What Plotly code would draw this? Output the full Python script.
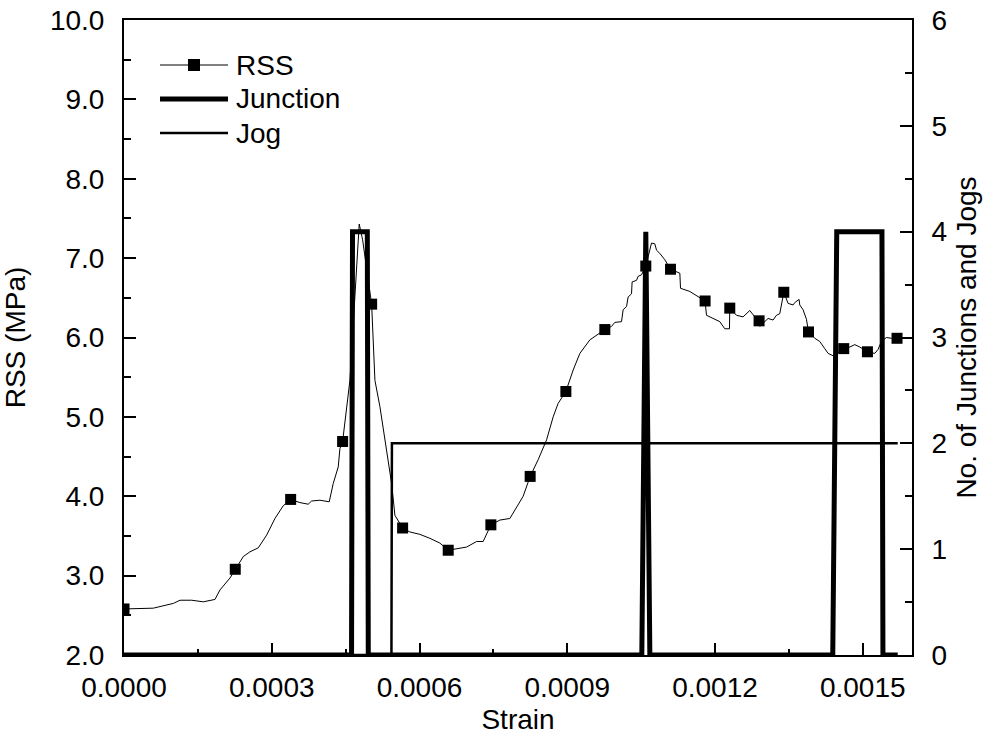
import plotly.graph_objects as go

# RSS curve (strain, MPa)
rss_strain = [0.0, 0.0000595, 0.0001001, 0.0001137, 0.0001374, 0.0001610, 0.0001847, 0.0001949,
              0.0002152, 0.0002259, 0.0002422, 0.0002558, 0.0002726, 0.0002896, 0.0003065, 0.0003233,
              0.0003384, 0.0003572, 0.0003741, 0.0003810, 0.0003978, 0.0004167, 0.0004248, 0.0004350,
              0.0004384, 0.0004439, 0.0004486, 0.0004587, 0.0004776, 0.0004845, 0.0005028, 0.0005060,
              0.0005095, 0.0005196, 0.0005344, 0.0005434, 0.0005501, 0.0005568, 0.0005657, 0.0005805,
              0.0006008, 0.0006211, 0.0006414, 0.0006583, 0.0006753, 0.0006956, 0.0007159, 0.0007293,
              0.0007449, 0.0007632, 0.0007835, 0.0007971, 0.0008105, 0.0008247, 0.0008409, 0.0008580,
              0.0008714, 0.0008815, 0.0008972, 0.0009120, 0.0009256, 0.0009459, 0.0009763, 0.0009899,
              0.0009966, 0.0010102, 0.0010135, 0.0010204, 0.0010236, 0.0010305, 0.0010317, 0.0010407,
              0.0010439, 0.0010508, 0.0010595, 0.0010711, 0.0010778, 0.0010813, 0.0010879, 0.0010981,
              0.0011097, 0.0011286, 0.0011300, 0.0011488, 0.0011590, 0.0011799, 0.0011827, 0.0011962,
              0.0012097, 0.0012199, 0.0012294, 0.0012300, 0.0012436, 0.0012570, 0.0012706, 0.0012808,
              0.0012895, 0.0012910, 0.0013078, 0.0013179, 0.0013248, 0.0013315, 0.0013397, 0.0013484,
              0.0013585, 0.0013620, 0.0013707, 0.0013721, 0.0013788, 0.0013857, 0.0013898, 0.0014026,
              0.0014127, 0.0014229, 0.0014296, 0.0014397, 0.0014614, 0.0014736, 0.0014838, 0.0014939,
              0.0015095, 0.0015244, 0.0015311, 0.0015379, 0.0015481, 0.0015582, 0.0015696]
rss_values = [2.58, 2.59, 2.65, 2.69, 2.69, 2.67, 2.70, 2.82,
              2.97, 3.08, 3.24, 3.30, 3.35, 3.51, 3.72, 3.88,
              3.96, 3.92, 3.90, 3.94, 3.95, 3.93, 4.16, 4.37,
              4.60, 4.69, 4.92, 5.46, 7.43, 7.23, 6.42, 5.97,
              5.46, 5.13, 4.54, 4.16, 3.76, 3.69, 3.60, 3.55,
              3.52, 3.47, 3.41, 3.32, 3.34, 3.36, 3.43, 3.43,
              3.64, 3.70, 3.72, 3.87, 4.00, 4.25, 4.46, 4.71,
              5.00, 5.17, 5.32, 5.59, 5.80, 5.97, 6.10, 6.14,
              6.19, 6.20, 6.35, 6.39, 6.51, 6.55, 6.70, 6.72,
              6.77, 6.79, 6.90, 7.19, 7.18, 7.10, 7.06, 6.98,
              6.86, 6.81, 6.62, 6.58, 6.54, 6.46, 6.28, 6.24,
              6.20, 6.11, 6.11, 6.37, 6.28, 6.26, 6.34, 6.26,
              6.21, 6.14, 6.24, 6.22, 6.28, 6.30, 6.57, 6.43,
              6.41, 6.44, 6.48, 6.41, 6.35, 6.23, 6.07, 5.99,
              5.95, 5.86, 5.80, 5.77, 5.86, 5.88, 5.91, 5.88,
              5.82, 5.80, 5.85, 5.95, 6.00, 5.99, 5.99]

# RSS symbol positions
marker_strain = [0.0, 0.0002259, 0.0003384, 0.0004439, 0.0005028, 0.0005657, 0.0006583, 0.0007449,
                 0.0008247, 0.0008972, 0.0009763, 0.0010595, 0.0011097, 0.0011799, 0.0012300,
                 0.0012895, 0.0013397, 0.0013898, 0.0014614, 0.0015095, 0.0015696]
marker_rss = [2.58, 3.08, 3.96, 4.69, 6.42, 3.60, 3.32, 3.64, 4.25, 5.32, 6.10, 6.90, 6.86,
              6.46, 6.37, 6.21, 6.57, 6.07, 5.86, 5.82, 5.99]

# Number of junctions
junction_strain = [0.0, 0.0004620, 0.0004640, 0.0004940, 0.0004960, 0.0010514, 0.0010595,
                   0.0010677, 0.0014391, 0.0014472, 0.0015390, 0.0015410, 0.0015710]
junction_count = [0, 0, 4, 4, 0, 0, 4, 0, 0, 4, 4, 0, 0]

# Number of jogs
jog_strain = [0.0, 0.000543, 0.000544, 0.001571]
jog_count = [0, 0, 2, 2]

legend_names = ["RSS", "Junction", "Jog"]
legend_widths = [1, 5, 2.5]

FONT = "Liberation Sans, Arial, sans-serif"
FS = 28

fig = go.Figure()
fig.add_trace(go.Scatter(x=rss_strain, y=rss_values, mode="lines", name="RSS",
                         line=dict(color="black", width=1), showlegend=False, hoverinfo="skip"))
fig.add_trace(go.Scatter(x=marker_strain, y=marker_rss, mode="markers", name="RSS",
                         marker=dict(symbol="square", size=11, color="black"),
                         showlegend=False))
fig.add_trace(go.Scatter(x=junction_strain, y=junction_count, mode="lines", name="Junction",
                         line=dict(color="black", width=5), yaxis="y2", showlegend=False))
fig.add_trace(go.Scatter(x=jog_strain, y=jog_count, mode="lines", name="Jog",
                         line=dict(color="black", width=2.5), yaxis="y2", showlegend=False))

# Legend (drawn in the top-left corner of the plot area, paper coordinates)
PW, PH = 788.0, 635.0
lx0, lx1, ltext = (160 - 124) / PW, (228 - 124) / PW, (234 - 124) / PW
legend_rows = [(655 - 65) / PH, (655 - 99) / PH, (655 - 133) / PH]
shapes = []
annotations = []
for name, w, yy in zip(legend_names, legend_widths, legend_rows):
    shapes.append(dict(type="line", xref="paper", yref="paper", x0=lx0, x1=lx1, y0=yy, y1=yy,
                       line=dict(color="black", width=w)))
    annotations.append(dict(text=name, xref="paper", yref="paper", x=ltext, y=yy,
                            xanchor="left", yanchor="middle", showarrow=False,
                            font=dict(family=FONT, size=FS, color="black")))
mx, my = (lx0 + lx1) / 2, legend_rows[0]
shapes.append(dict(type="rect", xref="paper", yref="paper",
                   x0=mx - 6 / PW, x1=mx + 6 / PW, y0=my - 6 / PH, y1=my + 6 / PH,
                   fillcolor="black", line=dict(width=0)))

fig.update_layout(
    width=984, height=740,
    margin=dict(l=124, r=72, t=20, b=85),
    paper_bgcolor="white", plot_bgcolor="white",
    font=dict(family=FONT, size=FS, color="black"),
    showlegend=False,
    shapes=shapes, annotations=annotations,
    xaxis=dict(range=[0, 0.0016], tick0=0, dtick=0.0003, tickformat=".4f", automargin=False,
               showline=True, linecolor="black", linewidth=2, mirror=True,
               ticks="inside", ticklen=12, tickwidth=1.5, tickcolor="black",
               minor=dict(dtick=0.00015, ticks="inside", ticklen=6, tickwidth=1.5, tickcolor="black"),
               showgrid=False, zeroline=False, ticklabelstandoff=6, ticklabeloverflow="allow",
               title=dict(text="Strain", standoff=8, font=dict(size=FS))),
    yaxis=dict(range=[2, 10], tick0=2, dtick=1, tickformat=".1f", automargin=False,
               showline=True, linecolor="black", linewidth=2,
               ticks="inside", ticklen=12, tickwidth=1.5, tickcolor="black",
               minor=dict(dtick=0.5, ticks="inside", ticklen=7, tickwidth=1.5, tickcolor="black"),
               showgrid=False, zeroline=False, ticklabelstandoff=12, ticklabeloverflow="allow",
               title=dict(text="RSS (MPa)", standoff=18, font=dict(size=FS))),
    yaxis2=dict(range=[0, 6], tick0=0, dtick=1, overlaying="y", side="right", automargin=False,
                showline=True, linecolor="black", linewidth=2,
                ticks="inside", ticklen=12, tickwidth=1.5, tickcolor="black",
                minor=dict(dtick=0.5, ticks="inside", ticklen=7, tickwidth=1.5, tickcolor="black"),
                showgrid=False, zeroline=False, ticklabelstandoff=12, ticklabeloverflow="allow",
                title=dict(text="No. of Junctions and Jogs", standoff=10, font=dict(size=FS))),
)

# remove the default 8px page margin so the 984x740 figure fills the window exactly
fig.write_html("out.html", config={"displayModeBar": False},
               post_script="document.body.style.margin='0';")
